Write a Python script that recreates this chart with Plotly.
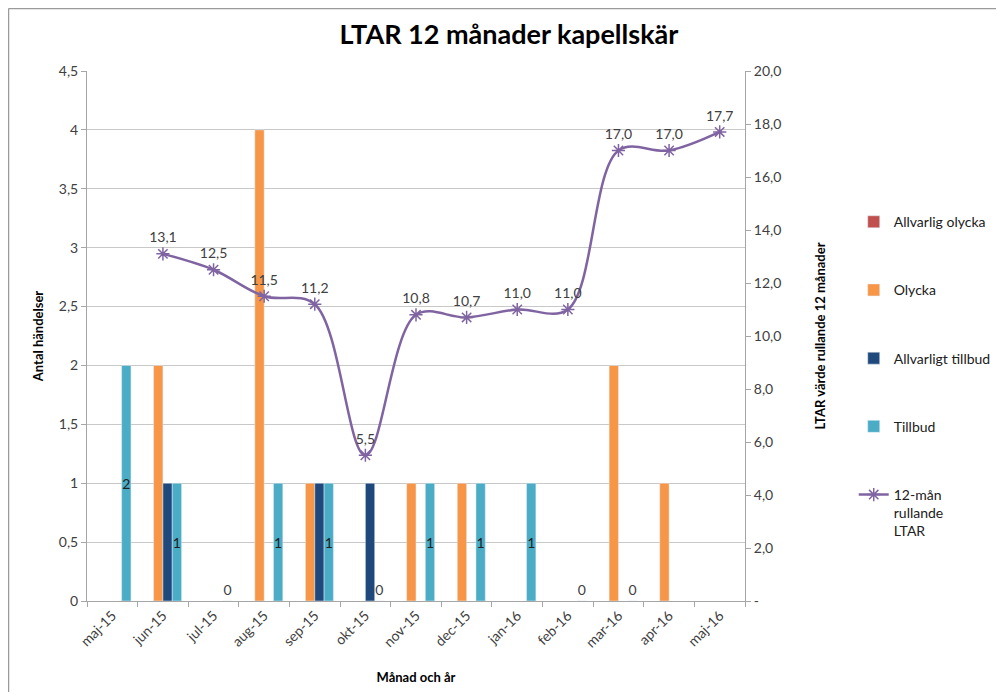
import plotly.graph_objects as go

months = ["maj-15", "jun-15", "jul-15", "aug-15", "sep-15", "okt-15", "nov-15",
          "dec-15", "jan-16", "feb-16", "mar-16", "apr-16", "maj-16"]
allvarlig_olycka = [None] * 13
olycka = [None, 2, None, 4, 1, None, 1, 1, None, None, 2, 1, None]
allvarligt_tillbud = [None, 1, None, None, 1, 1, None, None, None, None, None, None, None]
tillbud = [2, 1, 0, 1, 1, 0, 1, 1, 1, 0, 0, None, None]
ltar_months = months[1:]
ltar = [13.1, 12.5, 11.5, 11.2, 5.5, 10.8, 10.7, 11.0, 11.0, 17.0, 17.0, 17.7]

left_ticks = [0, 0.5, 1, 1.5, 2, 2.5, 3, 3.5, 4, 4.5]
left_ticktext = ["0", "0,5", "1", "1,5", "2", "2,5", "3", "3,5", "4", "4,5"]
right_ticks = [0, 2, 4, 6, 8, 10, 12, 14, 16, 18, 20]
right_ticktext = ["-", "2,0", "4,0", "6,0", "8,0", "10,0", "12,0", "14,0", "16,0", "18,0", "20,0"]

FONT = "Lato"
TXT = "#404040"

fig = go.Figure()
fig.add_trace(go.Bar(x=months, y=allvarlig_olycka, name="Allvarlig olycka",
                     marker_color="#C0504D", legendgroup="a"))
fig.add_trace(go.Bar(x=months, y=olycka, name="Olycka",
                     marker_color="#F79646", legendgroup="b"))
fig.add_trace(go.Bar(x=months, y=allvarligt_tillbud, name="Allvarligt tillbud",
                     marker_color="#1F497D", legendgroup="c"))
fig.add_trace(go.Bar(
    x=months, y=tillbud, name="Tillbud", marker_color="#4BACC6", legendgroup="d",
    text=["" if v is None else str(v) for v in tillbud],
    textposition=["outside" if (v == 0) else "inside" for v in tillbud],
    insidetextanchor="middle", constraintext="none", cliponaxis=False,
    textfont=dict(family=FONT, size=14, color="#202020"),
    outsidetextfont=dict(family=FONT, size=14, color="#404040"),
    insidetextfont=dict(family=FONT, size=14, color="#202020"),
))
fig.add_trace(go.Scatter(
    x=ltar_months, y=ltar, name="12-mån<br>rullande<br>LTAR", yaxis="y2",
    mode="lines+markers+text", legendgroup="e",
    line=dict(color="#8064A2", width=2.5, shape="spline", smoothing=1.0),
    marker=dict(symbol="asterisk-open", size=11, color="#8064A2",
                line=dict(color="#8064A2", width=1.5)),
    texttemplate="%{y:.1f}", textposition="top center",
    textfont=dict(family=FONT, size=14, color=TXT), cliponaxis=False,
))

axis_common = dict(showline=True, linecolor="#A6A6A6", linewidth=1,
                   ticks="outside", ticklen=5, tickcolor="#A6A6A6", automargin=False,
                   tickfont=dict(family=FONT, size=14, color=TXT))

fig.update_layout(
    width=988, height=684,
    margin=dict(l=79, r=251, t=63, b=91, autoexpand=False),
    paper_bgcolor="white", plot_bgcolor="white",
    separators=", ",
    barmode="group", bargap=0.263, bargroupgap=0,
    title=dict(text="<b>LTAR 12 månader kapellskär</b>", x=0.507, xanchor="center",
               y=0.9605, yanchor="middle", automargin=False,
               font=dict(family=FONT, size=27, color="#000000")),
    xaxis=dict(type="category", categoryorder="array", categoryarray=months,
               range=[-0.5, len(months) - 0.5],
               tickson="boundaries", tickangle=-45,
               title=dict(text="<b>Månad och år</b>", standoff=23,
                          font=dict(family=FONT, size=13, color="#000")),
               **axis_common),
    yaxis=dict(range=[0, 4.5], tickvals=left_ticks, ticktext=left_ticktext,
               showgrid=True, gridcolor="#C8C8C8", gridwidth=1, zeroline=False,
               title=dict(text="<b>Antal händelser</b>", standoff=12,
                          font=dict(family=FONT, size=13, color="#000")),
               **axis_common),
    yaxis2=dict(range=[0, 20], tickvals=right_ticks, ticktext=right_ticktext,
                overlaying="y", side="right", showgrid=False, zeroline=False,
                title=dict(text="<b>LTAR värde rullande 12 månader</b>", standoff=35,
                           font=dict(family=FONT, size=13, color="#000")),
                **axis_common),
    legend=dict(xref="container", x=0.856, xanchor="left", y=0.745, yanchor="top",
                tracegroupgap=47, valign="top", traceorder="grouped",
                font=dict(family=FONT, size=14, color="#202020"),
                bgcolor="rgba(0,0,0,0)"),
    showlegend=True,
    shapes=[
        dict(type="line", xref="paper", yref="paper", x0=-0.1193, x1=1.40,
             y0=1.118, y1=1.118, line=dict(color="#9A9A9A", width=1.5)),
        dict(type="line", xref="paper", yref="paper", x0=-0.1193, x1=-0.1193,
             y0=-0.19, y1=1.118, line=dict(color="#9A9A9A", width=1.5)),
    ],
)

fig.write_html("out.html")
